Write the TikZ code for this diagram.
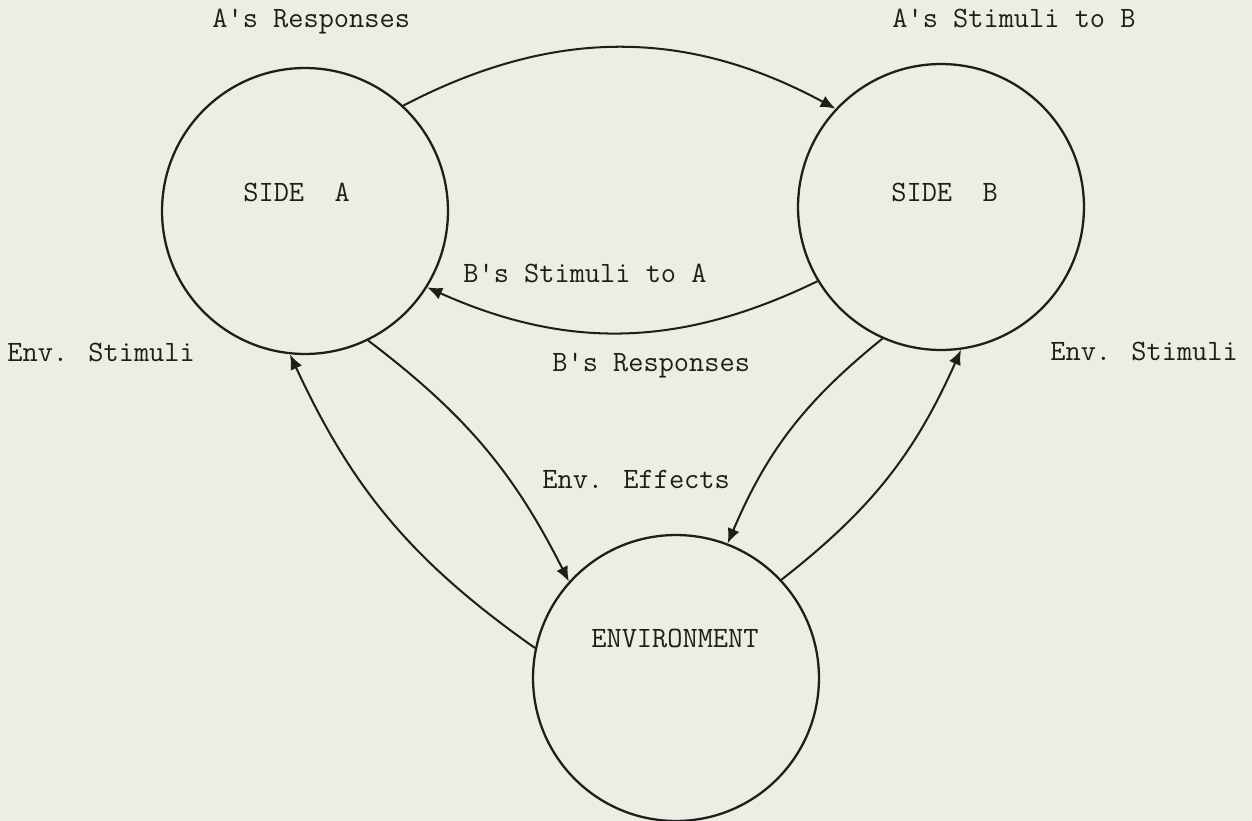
\documentclass[tikz,border=0pt]{standalone}
\usetikzlibrary{arrows.meta}
\definecolor{paper}{RGB}{238,237,225}
\definecolor{ink}{RGB}{32,30,27}

\begin{document}
\begin{tikzpicture}[x=0.02cm, y=-0.02cm,
  side/.style={circle, draw=ink, line width=1.3pt, minimum size=5.72cm, inner sep=0pt},
  lbl/.style={anchor=base west, inner sep=0pt, text=ink, font=\ttfamily\fontsize{16.8}{19}\selectfont},
  flow/.style={draw=ink, line width=1.15pt, -{Latex[length=3mm, width=2.5mm]}}]
  % page and background
  \useasboundingbox[fill=paper] (0,0) rectangle (1252,821);
  % draw the three circles
  \node[side] (sideA) at (305,211) {};
  \node[side] (sideB) at (941,207) {};
  \node[side] (env) at (676,678) {};
  % circle names
  \node[lbl] (sideA_name) at (243,202) {SIDE\ \ A};
  \node[lbl] (sideB_name) at (891,202) {SIDE\ \ B};
  \node[lbl] (env_name) at (591,647) {ENVIRONMENT};
  % flow labels
  \node[lbl] (a_resp) at (212,28) {A's Responses};
  \node[lbl] (a_stim) at (892,28) {A's Stimuli to B};
  \node[lbl] (b_stim) at (463,282) {B's Stimuli to A};
  \node[lbl] (b_resp) at (552,371) {B's Responses};
  \node[lbl] (env_eff) at (542,488) {Env. Effects};
  \node[lbl] (env_stim_a) at (7,361) {Env. Stimuli};
  \node[lbl] (env_stim_b) at (1050,360) {Env. Stimuli};
  % draw the arrows between the circles
  \draw[flow] (sideA.47) to[bend left=28] (sideB.137);
  \draw[flow] (sideB.211) to[bend left=25] (sideA.328);
  \draw[flow] (sideA.296) to[bend left=13] (env.138);
  \draw[flow] (env.168) to[bend left=15] (sideA.264);
  \draw[flow] (sideB.246) to[bend right=14] (env.69);
  \draw[flow] (env.43) to[bend right=14] (sideB.278);
\end{tikzpicture}
\end{document}
